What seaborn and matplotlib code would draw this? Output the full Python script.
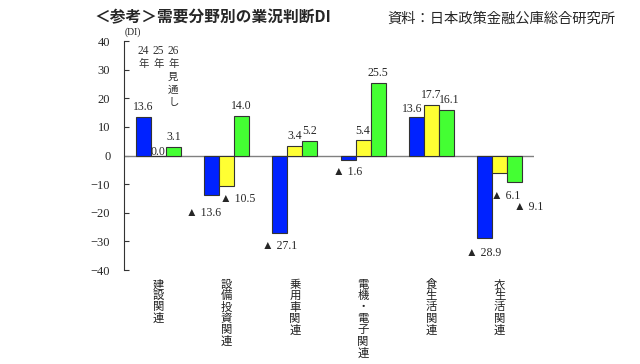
import numpy as np
import pandas as pd
import matplotlib
matplotlib.use("Agg")
import matplotlib.pyplot as plt
import seaborn as sns

categories = ["建設関連", "設備投資関連", "乗用車関連", "電機・電子関連", "食生活関連", "衣生活関連"]
years = ["24年", "25年", "26年見通し"]
v24 = [13.6, -13.6, -27.1, -1.6, 13.6, -28.9]
v25 = [0.0, -10.5, 3.4, 5.4, 17.7, -6.1]
v26 = [3.1, 14.0, 5.2, 25.5, 16.1, -9.1]
yticks = [40, 30, 20, 10, 0, -10, -20, -30, -40]

colors = ["#0022FF", "#FFFF33", "#44FF33"]

sns.set_theme(style="white")
plt.rcParams["font.family"] = ["Liberation Serif", "Noto Sans CJK JP", "DejaVu Sans"]
plt.rcParams["axes.unicode_minus"] = True

rows = []
for yr, vals in zip(years, [v24, v25, v26]):
    for c, v in zip(categories, vals):
        rows.append({"cat": c, "year": yr, "val": v})
df = pd.DataFrame(rows)

fig = plt.figure(figsize=(6.4, 3.64), dpi=100)
ax = fig.add_axes([0.194, 0.258, 0.64, 0.629])

sns.barplot(data=df, x="cat", y="val", hue="year", order=categories, hue_order=years,
            palette=colors, saturation=1, width=0.66, edgecolor="#333333", linewidth=0.8,
            legend=False, ax=ax, errorbar=None, zorder=3)

ax.set_xlim(-0.5, 5.5)
ax.set_ylim(-40, 40)
ax.axhline(0, color="#808080", lw=1.0, zorder=2)

for s in ["top", "right", "bottom"]:
    ax.spines[s].set_visible(False)
ax.spines["left"].set_color("#333333")
ax.spines["left"].set_linewidth(0.8)

ax.set_yticks(yticks)
ax.set_yticklabels([("−" + str(abs(t))) if t < 0 else str(t) for t in yticks])
ax.tick_params(axis="y", direction="in", length=3.5, width=0.8, color="#333333",
               pad=10, labelsize=9, left=True)
ax.set_xticks(range(len(categories)))
ax.set_xticklabels([""] * len(categories))
ax.tick_params(axis="x", length=0)
ax.set_xlabel("")
ax.set_ylabel("")

# vertical category labels (one character per line)
cat_pitch = 8.2
for i, c in enumerate(categories):
    for k, ch in enumerate(c):
        ax.annotate(ch, xy=(i, 0), xycoords=("data", "axes fraction"),
                    xytext=(0, -10.4 - k * cat_pitch), textcoords="offset points",
                    ha="center", va="center", fontsize=8.2, family="Noto Sans CJK JP",
                    color="#222222")

# offsets for value labels (points)
neg_off = {(1, 0): (-6, -9), (1, 1): (8, -5), (2, 0): (0, -5), (3, 0): (0, -4),
           (5, 0): (-1, -6), (5, 1): (4, -12), (5, 2): (10, -14)}
pos_off = {(0, 1): (0, -2), (4, 0): (-3, 1), (4, 2): (2, 2.5)}

for hi, cont in enumerate(ax.containers):
    for ci, bar in enumerate(cont):
        v = bar.get_height()
        x = bar.get_x() + bar.get_width() / 2
        if v < 0:
            dx, dy = neg_off.get((ci, hi), (0, -5))
            ax.annotate("▲ " + f"{abs(v):.1f}", (x, v), xytext=(dx, dy),
                        textcoords="offset points", ha="center", va="top",
                        fontsize=8.5, family=["Liberation Serif", "DejaVu Sans"])
        else:
            dx, dy = pos_off.get((ci, hi), (0, 2.5))
            ax.annotate(f"{v:.1f}", (x, v), xytext=(dx, dy),
                        textcoords="offset points", ha="center", va="bottom",
                        fontsize=8.5)

# year labels above first group (vertical)
yr_pitch = 9.3
for hi, cont in enumerate(ax.containers):
    bar = cont[0]
    x = bar.get_x() + bar.get_width() / 2
    parts = [years[hi][:2]] + list(years[hi][2:])
    for k, p in enumerate(parts):
        ax.annotate(p, xy=(x, 1), xycoords=("data", "axes fraction"),
                    xytext=(0, -7.2 - k * yr_pitch), textcoords="offset points",
                    ha="center", va="center", fontsize=8.3 if k == 0 else 7.5,
                    color="#333333", family=["Liberation Serif", "Noto Sans CJK JP"])

fig.text(0.194, 0.912, "(DI)", fontsize=7, ha="left", va="center")
fig.text(0.148, 0.952, "＜参考＞需要分野別の業況判断DI", fontsize=11.3, fontweight="bold",
         family="Noto Sans CJK JP", ha="left", va="center")
fig.text(0.606, 0.948, "資料：日本政策金融公庫総合研究所", fontsize=10.3,
         family="Noto Sans CJK JP", ha="left", va="center")

fig.savefig("out.png", dpi=100)
